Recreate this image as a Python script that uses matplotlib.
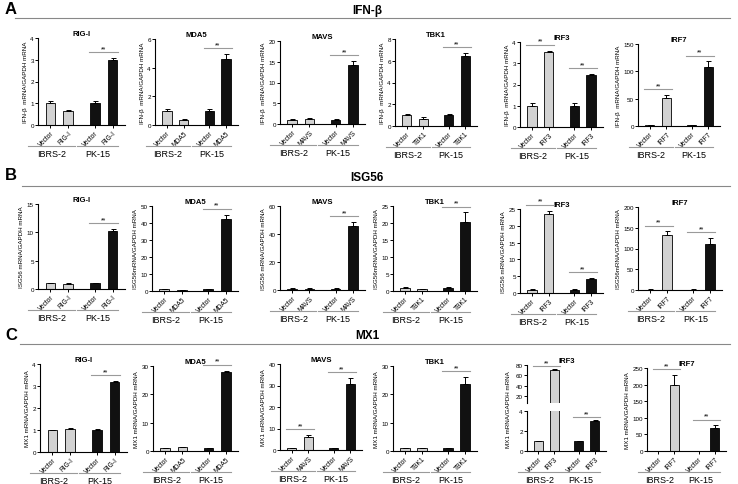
import matplotlib
matplotlib.use("Agg")
import matplotlib.pyplot as plt
from matplotlib.transforms import blended_transform_factory
import numpy as np

plt.rcParams['font.family'] = ['Liberation Sans', 'DejaVu Sans']

# ---------------- data ----------------
genes = ["RIG-I", "MDA5", "MAVS", "TBK1", "IRF3", "IRF7"]
readouts = ["IFN-β", "ISG56", "MX1"]
row_letters = ["A", "B", "C"]
cells = ["IBRS-2", "PK-15"]

# IFN-beta (row A): [IBRS-2 Vector, IBRS-2 gene, PK-15 Vector, PK-15 gene]
ifnb_means = [[1.0, 0.65, 1.0, 3.0], [1.0, 0.35, 1.0, 4.6], [1.0, 1.2, 1.0, 14.3],
              [1.0, 0.6, 1.0, 6.4], [1.0, 3.55, 1.0, 2.45], [1.0, 52.0, 1.0, 108.0]]
ifnb_errs = [[0.12, 0.05, 0.12, 0.08], [0.1, 0.06, 0.1, 0.35], [0.1, 0.25, 0.1, 0.9],
             [0.1, 0.2, 0.1, 0.3], [0.12, 0.05, 0.12, 0.05], [0.3, 5.0, 0.3, 10.0]]
ifnb_ymax = [4, 6, 20, 8, 4, 150]
ifnb_step = [1, 2, 5, 2, 1, 50]
ifnb_sig = [[False, True], [False, True], [False, True], [False, True], [True, True], [True, True]]
ifnb_ylabels = ["IFN-β  mRNA/GAPDH mRNA"] * 6

# ISG56 (row B)
isg56_means = [[1.0, 0.95, 1.0, 10.3], [1.0, 0.7, 1.0, 42.5], [1.0, 1.0, 1.0, 46.0],
               [1.0, 0.6, 1.0, 20.3], [1.0, 23.5, 1.0, 4.1], [1.0, 133.0, 1.0, 112.0]]
isg56_errs = [[0.05, 0.05, 0.05, 0.3], [0.1, 0.1, 0.1, 2.5], [0.1, 0.1, 0.1, 2.5],
              [0.1, 0.1, 0.1, 2.8], [0.05, 1.0, 0.05, 0.3], [0.3, 8.0, 0.3, 13.0]]
isg56_ymax = [15, 50, 60, 25, 25, 200]
isg56_step = [5, 10, 20, 5, 5, 50]
isg56_sig = [[False, True], [False, True], [False, True], [False, True], [True, True], [True, True]]
isg56_ylabels = ["ISG56 mRNA/GAPDH mRNA", "ISG56mRNA/GAPDH mRNA", "ISG56 mRNA/GAPDH mRNA",
                 "ISG56mRNA/GAPDH mRNA", "ISG56 mRNA/GAPDH mRNA", "ISG56mRNA/GAPDH mRNA"]

# MX1 (row C)
mx1_means = [[1.0, 1.03, 1.0, 3.18], [1.0, 1.3, 1.0, 27.8], [1.0, 6.2, 1.0, 30.8],
             [1.0, 1.1, 1.0, 23.7], [1.0, 70.0, 1.0, 3.05], [1.0, 200.0, 1.0, 69.0]]
mx1_errs = [[0.01, 0.04, 0.05, 0.03], [0.05, 0.1, 0.05, 0.6], [0.1, 0.7, 0.1, 2.5],
            [0.05, 0.1, 0.05, 2.3], [0.03, 1.5, 0.05, 0.08], [0.5, 28.0, 0.5, 8.0]]
mx1_ymax = [4, 30, 40, 30, 80, 250]
mx1_step = [1, 10, 10, 10, 20, 50]
mx1_sig = [[False, True], [False, True], [True, True], [False, True], [True, True], [True, True]]
mx1_ylabels = ["MX1 mRNA/GAPDH mRNA"] * 6
# broken axis for MX1 / IRF3
mx1_irf3_low_ylim = [0, 4]
mx1_irf3_low_ticks = [0, 2, 4]
mx1_irf3_high_ylim = [6, 80]
mx1_irf3_high_ticks = [20, 40, 60, 80]

# ---------------- layout ----------------
W, H = 738, 485
fig = plt.figure(figsize=(W / 100, H / 100), dpi=100)

boxes = [
    [(38, 39, 125, 126), (155, 40, 238, 126), (280, 42, 365, 125),
     (395, 40, 477, 127), (520, 43, 603, 128), (638, 45, 720, 127)],
    [(38, 205, 125, 290), (152, 207, 238, 292), (280, 207, 365, 291),
     (393, 207, 477, 292), (520, 210, 603, 294), (638, 208, 722, 291)],
    [(40, 365, 127, 453), (153, 367, 238, 452), (280, 365, 362, 451),
     (393, 367, 477, 452), (527, 366, 606, 452), (647, 369, 726, 452)],
]
header_y = [(10, 11, 19, 15), (175, 178, 187, 22), (336, 336, 345, 20)]

GREY = "#d2d2d2"
BLACK = "#111111"
LINEGREY = "#9a9a9a"
POS = np.array([0, 1, 2.5, 3.5])
XLIM = (-0.7, 4.2)


def add_ax(l, t, r, b):
    return fig.add_axes([l / W, 1 - b / H, (r - l) / W, (b - t) / H])


def style(ax):
    for s in ["top", "right"]:
        ax.spines[s].set_visible(False)
    for s in ["left", "bottom"]:
        ax.spines[s].set_linewidth(0.8)
    ax.tick_params(axis="both", length=2, width=0.7, pad=1, labelsize=4.5)
    ax.set_xlim(*XLIM)


def bars(ax, means, errs):
    ax.bar(POS, means, width=0.55, color=[GREY, GREY, BLACK, BLACK],
           edgecolor="black", linewidth=0.6, zorder=2)
    ax.errorbar(POS, means, yerr=[np.zeros(4), errs], fmt="none", ecolor="black",
                elinewidth=0.7, capsize=1.8, capthick=0.7, zorder=3)


def sig_mark(ax, means, errs, g, ymax):
    i, j = 2 * g, 2 * g + 1
    y = max(means[i] + errs[i], means[j] + errs[j]) + 0.07 * ymax
    ax.plot([POS[i] - 0.32, POS[j] + 0.32], [y, y], color=LINEGREY, lw=0.8,
            clip_on=False, zorder=4)
    ax.text((POS[i] + POS[j]) / 2, y, "**", ha="center", va="bottom", fontsize=5)


def xlabels(ax, gene, hpx):
    ax.set_xticks(POS)
    ax.set_xticklabels(["Vector", gene, "Vector", gene], rotation=45, ha="right",
                       rotation_mode="anchor", fontsize=4.8)
    tr = blended_transform_factory(ax.transData, ax.transAxes)
    yl = -21 / hpx
    for (x0, x1, xc), name in zip([(-1.26, 1.38, 0.06), (1.5, 3.8, 2.65)], cells):
        ax.plot([x0, x1], [yl, yl], color=LINEGREY, lw=0.8, transform=tr, clip_on=False)
        ax.text(xc, yl - 3 / hpx, name, transform=tr, ha="center", va="top", fontsize=6.5)


rows = [
    (ifnb_means, ifnb_errs, ifnb_ymax, ifnb_step, ifnb_sig, ifnb_ylabels),
    (isg56_means, isg56_errs, isg56_ymax, isg56_step, isg56_sig, isg56_ylabels),
    (mx1_means, mx1_errs, mx1_ymax, mx1_step, mx1_sig, mx1_ylabels),
]

for r, (means_l, errs_l, ymax_l, step_l, sig_l, ylab_l) in enumerate(rows):
    ly, ty, liney, linex = header_y[r]
    fig.text(5 / W, 1 - ly / H, row_letters[r], fontsize=12, fontweight="bold",
             ha="left", va="center")
    fig.text(367 / W, 1 - ty / H, readouts[r], fontsize=8.5, fontweight="bold",
             ha="center", va="center")
    fig.add_artist(plt.Line2D([linex / W, 730 / W], [1 - liney / H, 1 - liney / H],
                              color="#888888", lw=0.8))
    for c, gene in enumerate(genes):
        l, t, rr, b = boxes[r][c]
        means, errs = means_l[c], errs_l[c]
        if r == 2 and gene == "IRF3":
            # broken y axis
            hi = add_ax(l, t, rr, 404)
            lo = add_ax(l, 412, rr, b)
            for a in (hi, lo):
                style(a)
                bars(a, means, errs)
            hi.set_ylim(*mx1_irf3_high_ylim)
            hi.set_yticks(mx1_irf3_high_ticks)
            hi.spines["bottom"].set_visible(False)
            hi.tick_params(axis="x", bottom=False, labelbottom=False)
            lo.set_ylim(*mx1_irf3_low_ylim)
            lo.set_yticks(mx1_irf3_low_ticks)
            sig_mark(hi, means, errs, 0, mx1_irf3_high_ylim[1])
            sig_mark(lo, means, errs, 1, mx1_irf3_low_ylim[1])
            hi.set_title(gene, fontsize=5.5, fontweight="bold", pad=2)
            lo.set_ylabel(ylab_l[c], fontsize=4.5, labelpad=2)
            lo.yaxis.set_label_coords(-0.2, 1.05)
            xlabels(lo, gene, b - 412)
            continue
        ax = add_ax(l, t, rr, b)
        style(ax)
        bars(ax, means, errs)
        ax.set_ylim(0, ymax_l[c])
        ax.set_yticks(np.arange(0, ymax_l[c] + 1e-9, step_l[c]))
        for g in range(2):
            if sig_l[c][g]:
                sig_mark(ax, means, errs, g, ymax_l[c])
        ax.set_title(gene, fontsize=5.5, fontweight="bold", pad=2)
        ax.set_ylabel(ylab_l[c], fontsize=4.5, labelpad=2)
        xlabels(ax, gene, b - t)

fig.savefig("out.png", dpi=100)
